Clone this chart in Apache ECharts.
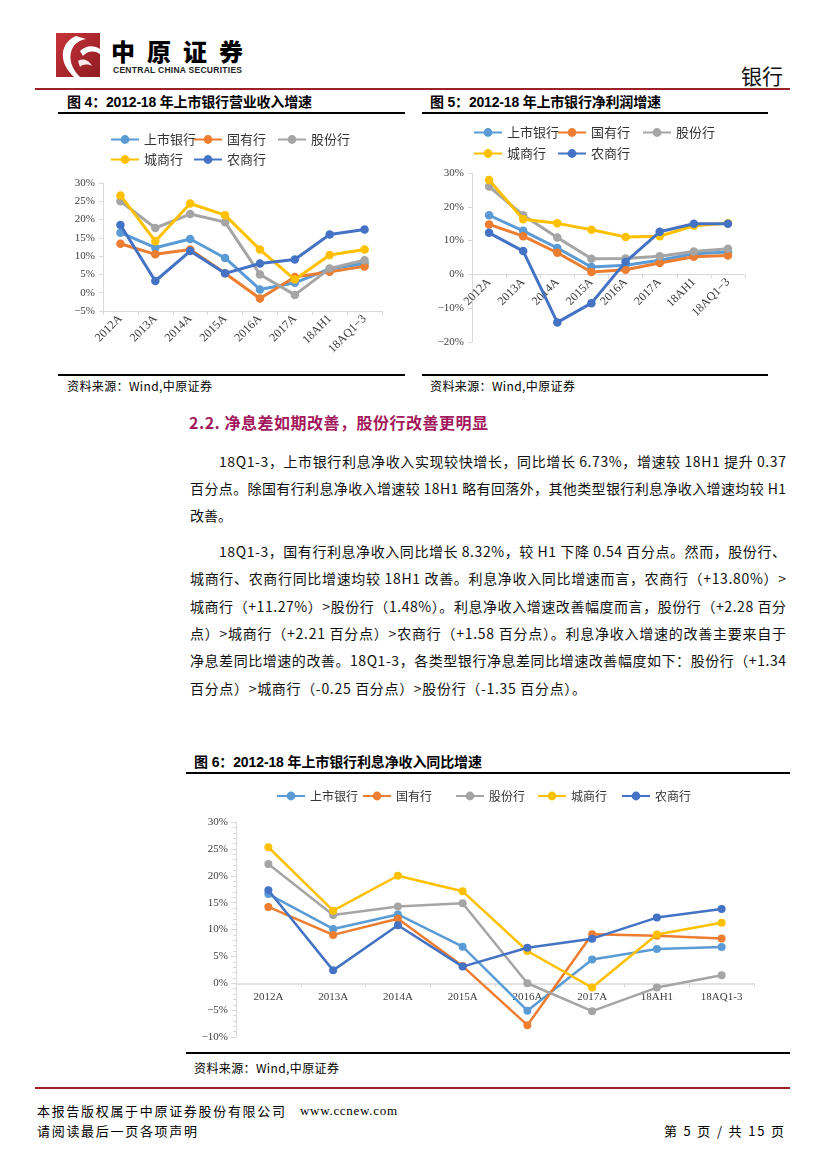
<!DOCTYPE html>
<html><head><meta charset="utf-8">
<script src="https://cdn.jsdelivr.net/npm/echarts/dist/echarts.min.js"></script>
<style>
html,body{margin:0;padding:0;background:#fff;}
#page{position:relative;width:827px;height:1169px;overflow:hidden;background:#fff;font-family:"Noto Sans CJK SC",sans-serif;color:#000;}
.t{position:absolute;white-space:nowrap;line-height:20px;height:20px;}
.bar{position:absolute;}
.ttl{font-family:"Liberation Sans","Noto Sans CJK SC",sans-serif;font-weight:bold;font-size:14px;}
.src{font-size:12px;}
.body{font-size:14px;color:#111;}
.ch{position:absolute;}
</style></head>
<body><div id="page">
<!-- header -->
<svg class="bar" style="left:56px;top:33px" width="44" height="44" viewBox="0 0 44 44">
 <defs><linearGradient id="lg" x1="0" y1="0" x2="1" y2="1"><stop offset="0" stop-color="#C8343A"/><stop offset="1" stop-color="#8E1C22"/></linearGradient></defs>
 <rect width="44" height="44" fill="url(#lg)"/>
 <path d="M20 3 C8 8 4 20 9 32 C12 38 16 42 18 44 L24 44 C16 36 12 26 16 16 C19 10 24 7 30 6 Z" fill="#fff"/>
 <path d="M24 18 C30 12 38 12 44 16 L44 21 C38 17 31 18 27 23 Z" fill="#fff"/>
 <path d="M22 28 C27 25 33 27 36 33 C32 31 27 31 24 34 Z" fill="#fff" opacity="0.9"/>
</svg>
<div class="t" data-w="132" style="left:111px;top:37px;height:28px;line-height:28px;font-size:24px;font-weight:900;">中原证券</div>
<div class="t" data-w="129" style="left:113px;top:63px;height:14px;line-height:14px;font-size:8.5px;font-weight:bold;font-family:'Liberation Sans',sans-serif;color:#222;">CENTRAL CHINA SECURITIES</div>
<div class="t" style="left:741px;top:62px;height:26px;line-height:26px;font-size:21px;color:#111;">银行</div>
<div class="bar" style="left:35px;top:88px;width:755px;height:2px;background:#9B2328;"></div>

<!-- chart 4 / 5 titles -->
<div class="t ttl" data-w="245" style="left:67px;top:92px;">图 4：2012-18 年上市银行营业收入增速</div>
<div class="bar" style="left:58px;top:112px;width:347px;height:2px;background:#000;"></div>
<div class="t ttl" data-w="231" style="left:430px;top:92px;">图 5：2012-18 年上市银行净利润增速</div>
<div class="bar" style="left:422px;top:112px;width:346px;height:2px;background:#000;"></div>

<div id="c4" class="ch" style="left:40px;top:120px;width:370px;height:250px;"></div>
<div id="c5" class="ch" style="left:420px;top:115px;width:370px;height:255px;"></div>

<div class="bar" style="left:58px;top:374px;width:347px;height:2px;background:#000;"></div>
<div class="bar" style="left:422px;top:374px;width:346px;height:2px;background:#000;"></div>
<div class="t src" data-w="145" style="left:67px;top:376px;">资料来源：Wind,中原证券</div>
<div class="t src" data-w="145" style="left:430px;top:376px;">资料来源：Wind,中原证券</div>

<!-- section -->
<div class="t" data-w="299" style="left:189px;top:411px;height:22px;line-height:22px;font-size:16px;font-weight:bold;color:#A3195D;">2.2. 净息差如期改善，股份行改善更明显</div>

<div class="t body" data-w="567" style="left:219px;top:451px;">18Q1-3，上市银行利息净收入实现较快增长，同比增长 6.73%，增速较 18H1 提升 0.37</div>
<div class="t body" data-w="596" style="left:190px;top:478px;">百分点。除国有行利息净收入增速较 18H1 略有回落外，其他类型银行利息净收入增速均较 H1</div>
<div class="t body" style="left:190px;top:505px;">改善。</div>

<div class="t body" data-w="567" style="left:219px;top:541px;">18Q1-3，国有行利息净收入同比增长 8.32%，较 H1 下降 0.54 百分点。然而，股份行、</div>
<div class="t body" data-w="596" style="left:190px;top:568px;">城商行、农商行同比增速均较 18H1 改善。利息净收入同比增速而言，农商行（+13.80%）&gt;</div>
<div class="t body" data-w="596" style="left:190px;top:596px;">城商行（+11.27%）&gt;股份行（1.48%）。利息净收入增速改善幅度而言，股份行（+2.28 百分</div>
<div class="t body" data-w="596" style="left:190px;top:623px;">点）&gt;城商行（+2.21 百分点）&gt;农商行（+1.58 百分点）。利息净收入增速的改善主要来自于</div>
<div class="t body" data-w="596" style="left:190px;top:650px;">净息差同比增速的改善。18Q1-3，各类型银行净息差同比增速改善幅度如下：股份行（+1.34</div>
<div class="t body" data-w="396" style="left:190px;top:678px;">百分点）&gt;城商行（-0.25 百分点）&gt;股份行（-1.35 百分点）。</div>

<!-- chart 6 -->
<div class="t ttl" data-w="288" style="left:194px;top:752px;">图 6：2012-18 年上市银行利息净收入同比增速</div>
<div class="bar" style="left:186px;top:772px;width:604px;height:2px;background:#000;"></div>
<div id="c6" class="ch" style="left:185px;top:780px;width:605px;height:268px;"></div>
<div class="bar" style="left:186px;top:1052px;width:604px;height:2px;background:#000;"></div>
<div class="t src" data-w="145" style="left:194px;top:1058px;">资料来源：Wind,中原证券</div>

<!-- footer -->
<div class="bar" style="left:35px;top:1087px;width:755px;height:2px;background:#9B2328;"></div>
<div class="t" data-w="248" style="left:37px;top:1101px;font-size:13px;">本报告版权属于中原证券股份有限公司</div>
<div class="t" data-w="97" style="left:300px;top:1101px;font-size:13px;font-family:'Liberation Serif',serif;">www.ccnew.com</div>
<div class="t" data-w="160" style="left:37px;top:1121px;font-size:13px;">请阅读最后一页各项声明</div>
<div class="t" data-w="120" style="left:664px;top:1121px;font-size:13px;">第 5 页 / 共 15 页</div>
</div>

<script>
// ---------- data ----------
const categories = ['2012A','2013A','2014A','2015A','2016A','2017A','18AH1','18AQ1-3'];
const seriesNames = ['上市银行','国有行','股份行','城商行','农商行'];

// Fig 4: revenue growth (%)
const rev_listed = [16.4, 12.3, 14.7, 9.5, 0.9, 2.7, 6.5, 8.0];
const rev_state  = [13.4, 10.5, 11.8, 5.3, -1.6, 4.3, 5.7, 7.2];
const rev_joint  = [25.0, 17.7, 21.5, 19.3, 5.0, -0.6, 6.6, 8.9];
const rev_city   = [26.6, 14.1, 24.4, 21.2, 11.8, 3.6, 10.3, 11.8];
const rev_rural  = [18.5, 3.2, 11.4, 5.3, 8.0, 9.1, 15.9, 17.3];

// Fig 5: net profit growth (%)
const np_listed = [17.5, 12.9, 7.8, 2.2, 2.7, 4.2, 6.1, 6.6];
const np_state  = [14.8, 11.3, 6.4, 0.7, 1.4, 3.4, 5.2, 5.6];
const np_joint  = [26.0, 17.5, 10.9, 4.6, 4.7, 5.4, 6.8, 7.6];
const np_city   = [27.9, 16.3, 15.1, 13.2, 11.1, 11.3, 14.4, 15.1];
const np_rural  = [12.3, 6.9, -14.2, -8.5, 3.7, 12.6, 15.0, 15.0];

// Fig 6: net interest income YoY growth (%)
const nii_listed = [16.6, 10.1, 12.8, 6.8, -5.1, 4.4, 6.36, 6.73];
const nii_state  = [14.2, 9.0, 12.0, 3.2, -7.8, 9.1, 8.86, 8.32];
const nii_joint  = [22.2, 12.7, 14.3, 14.9, 0.0, -5.2, -0.80, 1.48];
const nii_city   = [25.3, 13.5, 20.0, 17.1, 6.0, -0.8, 9.06, 11.27];
const nii_rural  = [17.3, 2.4, 10.8, 3.1, 6.6, 8.3, 12.22, 13.80];

const yTicks4 = {min:-5, max:30, interval:5};
const yTicks5 = {min:-20, max:30, interval:10};
const yTicks6 = {min:-10, max:30, interval:5};

// ---------- styles ----------
const COLORS = ['#5B9BD5','#ED7D31','#A5A5A5','#FFC000','#4472C4'];
const FONT_AX = '"Liberation Serif","Times New Roman",serif';
const FONT_CN = '"Noto Sans CJK SC",sans-serif';
const AX = '#D9D9D9';
const pct = v => (v < 0 ? '\u2212' + Math.abs(v) : v) + '%';

function legends(items, fontSize){
  return items.map(([i,left,top]) => ({
    data:[seriesNames[i]], left, top, padding:0, itemWidth:28, itemHeight:11, itemGap:0,
    selectedMode:false, textStyle:{fontSize, fontFamily:FONT_CN, color:'#333'}
  }));
}
function series(datas, lw, ss){
  return seriesNames.map((n,i)=>({
    name:n, type:'line', data:datas[i], symbol:'circle', symbolSize:ss, showSymbol:true,
    lineStyle:{width:lw, color:COLORS[i]}, itemStyle:{color:COLORS[i]}, z:2+i, animation:false,
    emphasis:{disabled:true}
  }));
}
function yAxis(t, minor){
  return {type:'value', min:t.min, max:t.max, interval:t.interval,
    splitLine:{show:false},
    axisLine:{show:true, lineStyle:{color:AX, width:1}},
    axisTick:{show:true, length:minor?5:4, lineStyle:{color:AX}},
    minorTick:{show:!!minor, splitNumber:5, length:3, lineStyle:{color:AX}},
    axisLabel:{formatter:pct, fontSize:11, fontFamily:FONT_AX, color:'#404040', margin:8}};
}
// x axis placed at the zero line via offset (computed from the value range and grid height)
function xAxis(t, gridH, rotate, lw){
  const zeroOffset = -(0 - t.min) / (t.max - t.min) * gridH;
  return {type:'category', data:categories, boundaryGap:true, offset: zeroOffset,
    axisLine:{onZero:false, lineStyle:{color:AX, width:lw}},
    axisTick:{show:true, length:4, lineStyle:{color:AX}},
    axisLabel:{interval:0, rotate, fontSize:rotate?12:11, fontFamily:FONT_AX, color:'#404040', margin:rotate?6:8,
      formatter: v => v.replace('-', rotate ? '\u2212' : '-')}};
}

const c4 = echarts.init(document.getElementById('c4'), null, {renderer:'canvas'});
c4.setOption({
  animation:false,
  grid:{left:63, top:63, width:279, height:128, containLabel:false, outerBoundsMode:'none'},
  legend: legends([[0,70,13],[1,153,13],[2,237,13],[3,70,33],[4,153,33]], 13),
  xAxis: Object.assign(xAxis(yTicks4, 128, 45, 1), {offset:0}),
  yAxis: yAxis(yTicks4, false),
  series: series([rev_listed, rev_state, rev_joint, rev_city, rev_rural], 3, 8.5)
});

const c5 = echarts.init(document.getElementById('c5'), null, {renderer:'canvas'});
c5.setOption({
  animation:false,
  grid:{left:52, top:58, width:273, height:169, containLabel:false, outerBoundsMode:'none'},
  legend: legends([[0,53,11],[1,137,11],[2,222,11],[3,53,32],[4,137,32]], 13),
  xAxis: xAxis(yTicks5, 169, 45, 1),
  yAxis: yAxis(yTicks5, false),
  series: series([np_listed, np_state, np_joint, np_city, np_rural], 3, 8.5)
});

const c6 = echarts.init(document.getElementById('c6'), null, {renderer:'canvas'});
c6.setOption({
  animation:false,
  grid:{left:51, top:42, width:518, height:215, containLabel:false, outerBoundsMode:'none'},
  legend: legends([[0,91,10],[1,177,10],[2,270,10],[3,352,10],[4,436,10]], 12),
  xAxis: xAxis(yTicks6, 215, 0, 1.5),
  yAxis: yAxis(yTicks6, true),
  series: series([nii_listed, nii_state, nii_joint, nii_city, nii_rural], 2.5, 8)
});

// ---------- fit text lines to measured widths ----------
function fit(){
  document.querySelectorAll('[data-w]').forEach(el=>{
    el.style.letterSpacing = '0px';
    const w = +el.dataset.w;
    const r = document.createRange(); r.selectNodeContents(el);
    const nat = r.getBoundingClientRect().width;
    const n = [...el.textContent].length;
    if (n > 1) el.style.letterSpacing = ((w - nat) / (n - 1)) + 'px';
  });
}
fit();
if (document.fonts && document.fonts.ready) document.fonts.ready.then(fit);
</script>
</body></html>
